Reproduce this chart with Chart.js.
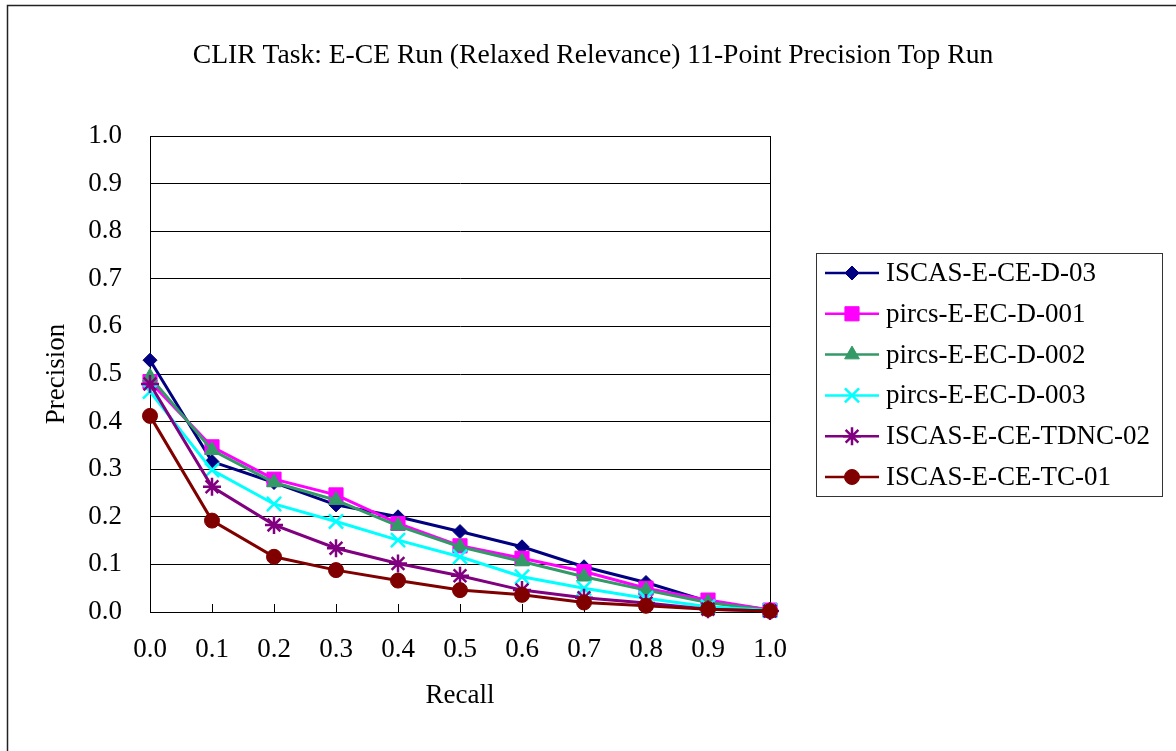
<!DOCTYPE html>
<html>
<head>
<meta charset="utf-8">
<script src="https://cdn.jsdelivr.net/npm/chart.js@4"></script>
<style>
    html, body { margin: 0; padding: 0; background: #fff; }
    #wrap { width: 1176px; height: 751px; }
</style>
</head>
<body>
<div id="wrap"><canvas id="grafic"></canvas></div>
<script>
const recall = [0.0, 0.1, 0.2, 0.3, 0.4, 0.5, 0.6, 0.7, 0.8, 0.9, 1.0];

const iscas_d03 = [0.529, 0.316, 0.272, 0.225, 0.200, 0.169, 0.137, 0.095, 0.062, 0.022, 0.004];
const pircs_001 = [0.484, 0.347, 0.279, 0.246, 0.186, 0.139, 0.113, 0.085, 0.050, 0.025, 0.004];
const pircs_002 = [0.494, 0.340, 0.272, 0.235, 0.181, 0.137, 0.106, 0.074, 0.046, 0.020, 0.003];
const pircs_003 = [0.463, 0.298, 0.227, 0.190, 0.151, 0.116, 0.074, 0.050, 0.029, 0.011, 0.003];
const iscas_tdnc02 = [0.479, 0.263, 0.183, 0.134, 0.102, 0.076, 0.046, 0.030, 0.019, 0.006, 0.002];
const iscas_tc01 = [0.412, 0.192, 0.116, 0.088, 0.066, 0.046, 0.036, 0.020, 0.013, 0.006, 0.002];

const names = ["ISCAS-E-CE-D-03", "pircs-E-EC-D-001", "pircs-E-EC-D-002", "pircs-E-EC-D-003", "ISCAS-E-CE-TDNC-02", "ISCAS-E-CE-TC-01"];
const title_text = "CLIR Task: E-CE Run (Relaxed Relevance) 11-Point Precision Top Run";

const FONT = "'Liberation Serif', 'Times New Roman', serif";

function pts(arr) {
    return recall.map((r, i) => ({x: r, y: arr[i]}));
}

function make_set(label, arr, color, style, radius, bw, order) {
    return {
        label: label,
        data: pts(arr),
        borderColor: color,
        backgroundColor: color,
        borderWidth: 3,
        pointStyle: style,
        pointRadius: radius,
        pointBorderWidth: bw,
        pointBackgroundColor: color,
        pointBorderColor: color,
        tension: 0,
        clip: false,
        order: order
    };
}

// frame, title, plot border, inside x ticks, legend
const decor = {
    id: "decor",
    beforeDatasetsDraw(chart) {
        const c = chart.ctx;
        const area = chart.chartArea;
        c.save();
        // plot area border
        c.strokeStyle = "#000";
        c.lineWidth = 1;
        c.strokeRect(Math.round(area.left) + 0.5, Math.round(area.top) + 0.5,
            Math.round(area.right - area.left), Math.round(area.bottom - area.top));

        // inside tick marks on x axis
        const xs = chart.scales.x;
        c.beginPath();
        xs.ticks.forEach(t => {
            const px = Math.round(xs.getPixelForValue(t.value)) + 0.5;
            c.moveTo(px, area.bottom);
            c.lineTo(px, area.bottom - 8);
        });
        c.stroke();
        c.restore();
    },
    afterDraw(chart) {
        const c = chart.ctx;
        c.save();
        // outer frame (only left and top visible)
        c.strokeStyle = "#222";
        c.lineWidth = 1.5;
        c.beginPath();
        c.moveTo(7.5, chart.height);
        c.lineTo(7.5, 5.5);
        c.lineTo(chart.width, 5.5);
        c.stroke();

        // title
        c.fillStyle = "#000";
        c.font = "27.6px " + FONT;
        c.textAlign = "center";
        c.textBaseline = "middle";
        c.fillText(title_text, 593, 56);

        // legend
        const lx = 816, ly = 253, lw = 346, lh = 243;
        c.fillStyle = "#fff";
        c.fillRect(lx, ly, lw, lh);
        c.strokeStyle = "#333";
        c.lineWidth = 1;
        c.strokeRect(lx + 0.5, ly + 0.5, lw, lh);
        c.font = "27px " + FONT;
        c.textAlign = "left";
        c.textBaseline = "middle";
        chart.data.datasets.forEach((ds, i) => {
            const y = ly + 20 + i * 40.8;
            c.strokeStyle = ds.borderColor;
            c.lineWidth = 2.5;
            c.beginPath();
            c.moveTo(825, y);
            c.lineTo(879, y);
            c.stroke();
            c.lineWidth = ds.pointBorderWidth;
            c.fillStyle = ds.pointBackgroundColor;
            c.strokeStyle = ds.pointBorderColor;
            Chart.helpers.drawPoint(c, {pointStyle: ds.pointStyle, radius: ds.pointRadius, borderWidth: ds.pointBorderWidth}, 852, y);
            c.fillStyle = "#000";
            c.fillText(ds.label, 886, y + 1);
        });
        c.restore();
    }
};

function create_grafic() {
    const ctx = document.getElementById("grafic");

    const data = {
        datasets: [
            make_set(names[0], iscas_d03, "#000080", "rectRot", 7, 1, 5),
            make_set(names[1], pircs_001, "#FF00FF", "rect", 10, 1, 4),
            make_set(names[2], pircs_002, "#339966", "triangle", 8.5, 1, 3),
            make_set(names[3], pircs_003, "#00FFFF", "crossRot", 10, 2.5, 2),
            make_set(names[4], iscas_tdnc02, "#800080", "star", 9, 2.5, 1),
            make_set(names[5], iscas_tc01, "#800000", "circle", 7.5, 1, 0)
        ]
    };

    const config = {
        type: "line",
        data: data,
        options: {
            responsive: true,
            maintainAspectRatio: false,
            animation: false,
            layout: {padding: {top: 136, right: 406, bottom: 39, left: 41}},
            plugins: {
                legend: {display: false},
                title: {display: false},
                tooltip: {enabled: false}
            },
            scales: {
                x: {
                    type: "linear",
                    min: 0,
                    max: 1,
                    afterFit: s => { s.height = 100; },
                    ticks: {
                        stepSize: 0.1,
                        color: "#000",
                        padding: 22,
                        font: {family: FONT, size: 27},
                        maxRotation: 0,
                        callback: v => v.toFixed(1)
                    },
                    grid: {drawOnChartArea: false, drawTicks: false},
                    border: {display: true, color: "#000", width: 1},
                    title: {
                        display: true,
                        text: "Recall",
                        color: "#000",
                        padding: 0,
                        font: {family: FONT, size: 27}
                    }
                },
                y: {
                    min: 0,
                    max: 1,
                    afterFit: s => { s.width = 109; },
                    ticks: {
                        stepSize: 0.1,
                        color: "#000",
                        padding: 28,
                        font: {family: FONT, size: 27},
                        callback: v => v.toFixed(1)
                    },
                    grid: {color: "#000", lineWidth: 1, drawTicks: false},
                    border: {display: true, color: "#000", width: 1},
                    title: {
                        display: true,
                        text: "Precision",
                        color: "#000",
                        padding: 0,
                        font: {family: FONT, size: 27}
                    }
                }
            }
        },
        plugins: [decor]
    };

    const grafica = new Chart(ctx, config);
}

create_grafic();
</script>
</body>
</html>
